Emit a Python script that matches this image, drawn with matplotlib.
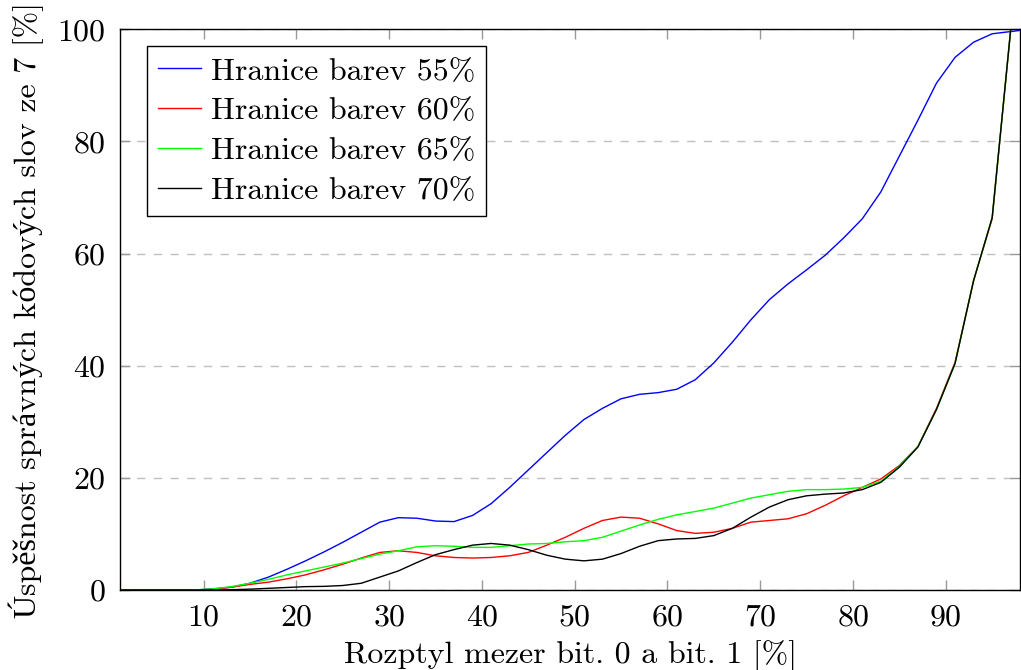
import numpy as np
import matplotlib
matplotlib.use("Agg")
import matplotlib.pyplot as plt

# ---- data ----
x = [1, 3, 5, 7, 9, 11, 13, 15, 17, 19, 21, 23, 25, 27, 29, 31, 33, 35, 37, 39,
     41, 43, 45, 47, 49, 51, 53, 55, 57, 59, 61, 63, 65, 67, 69, 71, 73, 75, 77, 79,
     81, 83, 85, 87, 89, 91, 93, 95, 97, 99]

h55 = [0, 0, 0, 0, 0, 0.2, 0.5, 1.2, 2.3, 3.7, 5.2, 6.8, 8.5, 10.3, 12.1, 12.9, 12.8, 12.3, 12.2, 13.3,
       15.4, 18.3, 21.4, 24.5, 27.6, 30.4, 32.4, 34.1, 34.9, 35.2, 35.8, 37.5, 40.5, 44.2, 48.2, 51.8, 54.6, 57.1, 59.7, 62.8,
       66.2, 71.0, 77.4, 83.8, 90.4, 95.0, 97.7, 99.2, 99.6, 100]
h60 = [0, 0, 0, 0, 0, 0.1, 0.5, 1.0, 1.4, 2.0, 2.7, 3.6, 4.6, 5.7, 6.7, 7.0, 6.7, 6.1, 5.8, 5.7,
       5.8, 6.1, 6.7, 8.0, 9.4, 11.0, 12.4, 13.0, 12.8, 11.8, 10.6, 10.1, 10.3, 11.0, 12.1, 12.4, 12.7, 13.6, 15.1, 16.8,
       18.3, 19.8, 22.2, 25.6, 32.4, 40.6, 55.2, 66.2, 100, 100]
h65 = [0, 0, 0, 0, 0, 0.2, 0.6, 1.2, 1.9, 2.7, 3.4, 4.1, 4.8, 5.6, 6.4, 7.0, 7.7, 7.9, 7.8, 7.6,
       7.6, 7.9, 8.2, 8.3, 8.6, 8.8, 9.4, 10.5, 11.6, 12.6, 13.4, 14.0, 14.6, 15.5, 16.4, 17.0, 17.6, 17.9, 17.9, 18.0,
       18.3, 19.4, 22.0, 25.6, 32.2, 40.4, 55.2, 66.4, 100, 100]
h70 = [0, 0, 0, 0, 0, 0, 0.05, 0.15, 0.3, 0.45, 0.6, 0.65, 0.8, 1.2, 2.3, 3.4, 4.9, 6.3, 7.2, 8.0,
       8.3, 8.0, 7.2, 6.2, 5.5, 5.2, 5.5, 6.5, 7.8, 8.8, 9.1, 9.2, 9.7, 11.0, 13.0, 14.8, 16.1, 16.8, 17.1, 17.3,
       17.9, 19.2, 21.9, 25.5, 32.2, 40.4, 55.2, 66.4, 100, 100]

series = [h55, h60, h65, h70]
labels = ["Hranice barev 55%", "Hranice barev 60%", "Hranice barev 65%", "Hranice barev 70%"]
colors = ["#0000ff", "#ff0000", "#00ff00", "#000000"]
xticks = [10, 20, 30, 40, 50, 60, 70, 80, 90]
yticks = [0, 20, 40, 60, 80, 100]

title = "Dekódování při použití vybraných hranic barev"
xlabel = "Rozptyl mezer bit. 0 a bit. 1 [%]"
ylabel = "Úspěšnost správných kódových slov ze 7 [%]"

# ---- style ----
plt.rcParams['font.family'] = ['cmr10', 'Liberation Serif']
plt.rcParams['axes.formatter.use_mathtext'] = True
plt.rcParams['font.size'] = 23

W, H = 1021, 670
fig = plt.figure(figsize=(W / 100, H / 100), dpi=100)
ax = fig.add_axes([120 / W, 1 - 590 / H, 900 / W, (590 - 29.3) / H])

for s, lab, c in zip(series, labels, colors):
    ax.plot(x, s, color=c, lw=1.0, label=lab)

ax.set_xlim(1, 98)
ax.set_ylim(0, 100)
ax.set_xticks(xticks)
ax.set_yticks(yticks)
ax.tick_params(direction='in', length=7, width=1, color='#999999',
               top=True, right=True, pad=10)
for sp in ax.spines.values():
    sp.set_linewidth(1.0)
    sp.set_color('black')
ax.yaxis.grid(True, linestyle=(0, (6, 6)), color='#c0c0c0', lw=1.0)
ax.set_axisbelow(True)

ax.set_xlabel(xlabel, labelpad=6)
ax.set_ylabel(ylabel, labelpad=10)

leg = ax.legend(loc='upper left', bbox_to_anchor=(0.03, 0.97), fancybox=False,
                edgecolor='black', framealpha=1, handlelength=1.35,
                handletextpad=0.3, borderpad=0.35, labelspacing=0.36,
                borderaxespad=0)
leg.get_frame().set_linewidth(1.0)

# title: placed so only its descenders are visible at the top edge
fig.canvas.draw()
r = fig.canvas.get_renderer()
tmp = fig.text(0, 0, "Dekódování ")
wpref = tmp.get_window_extent(renderer=r).width
tmp.remove()
fig.text((244 - wpref) / W, 1 + 12 / H, title, ha='left', va='baseline')

fig.savefig("out.png", dpi=100)
